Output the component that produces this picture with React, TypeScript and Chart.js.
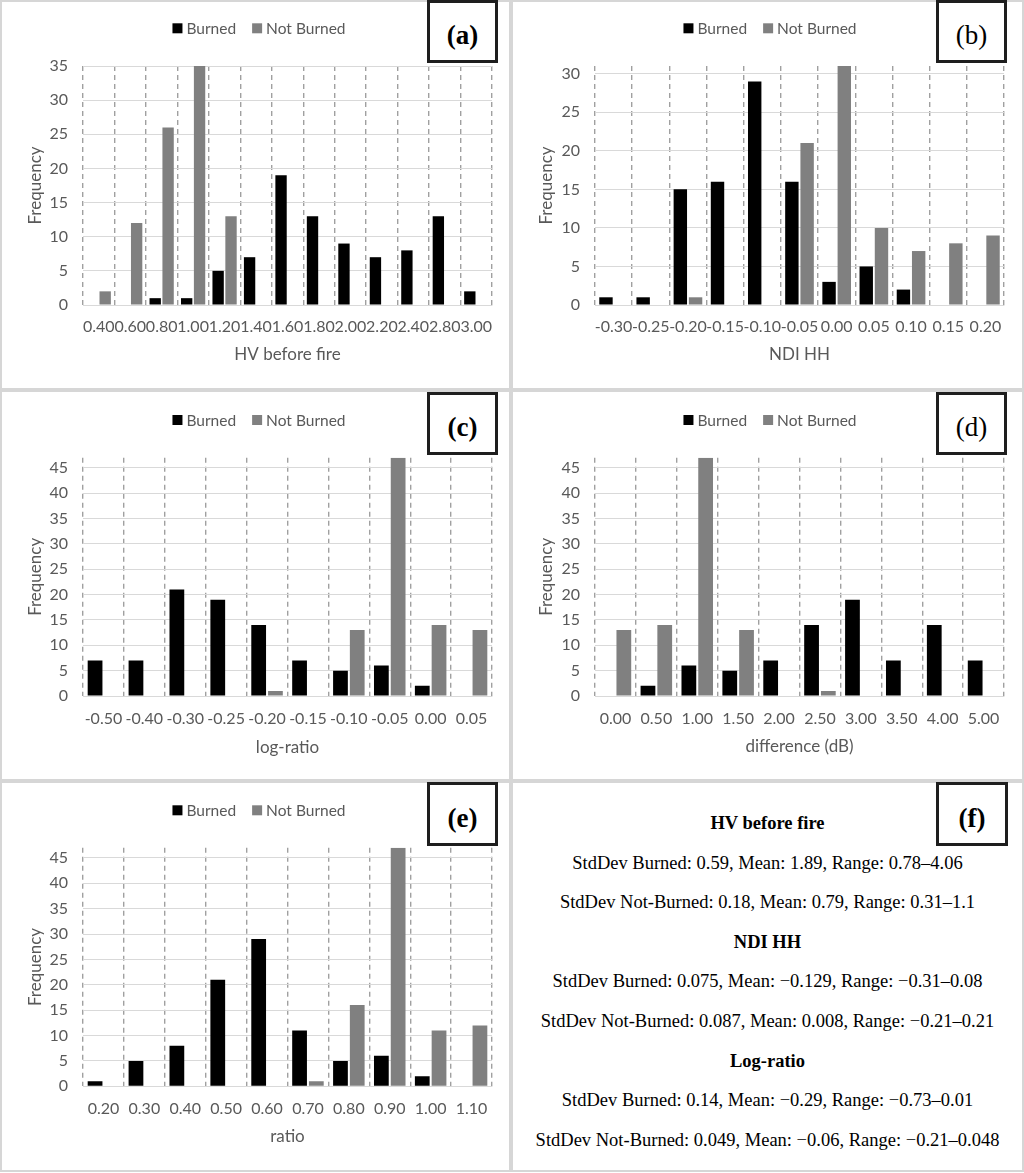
import React, { useEffect, useRef } from "react";
import { Chart, registerables } from "chart.js";

Chart.register(...registerables);

// ---------- DATA ----------
const seriesLabels = ["Burned", "Not Burned"];

const aCategories = ["0.40", "0.60", "0.80", "1.00", "1.20", "1.40", "1.60", "1.80", "2.00", "2.20", "2.40", "2.80", "3.00"];
const aBurned = [0, 0, 1, 1, 5, 7, 19, 13, 9, 7, 8, 13, 2];
const aNotBurned = [2, 12, 26, 35, 13, 0, 0, 0, 0, 0, 0, 0, 0];

const bCategories = ["-0.30", "-0.25", "-0.20", "-0.15", "-0.10", "-0.05", "0.00", "0.05", "0.10", "0.15", "0.20"];
const bBurned = [1, 1, 15, 16, 29, 16, 3, 5, 2, 0, 0];
const bNotBurned = [0, 0, 1, 0, 0, 21, 31, 10, 7, 8, 9];

const cCategories = ["-0.50", "-0.40", "-0.30", "-0.25", "-0.20", "-0.15", "-0.10", "-0.05", "0.00", "0.05"];
const cBurned = [7, 7, 21, 19, 14, 7, 5, 6, 2, 0];
const cNotBurned = [0, 0, 0, 0, 1, 0, 13, 47, 14, 13];

const dCategories = ["0.00", "0.50", "1.00", "1.50", "2.00", "2.50", "3.00", "3.50", "4.00", "5.00"];
const dBurned = [0, 2, 6, 5, 7, 14, 19, 7, 14, 7];
const dNotBurned = [13, 14, 47, 13, 0, 1, 0, 0, 0, 0];

const eCategories = ["0.20", "0.30", "0.40", "0.50", "0.60", "0.70", "0.80", "0.90", "1.00", "1.10"];
const eBurned = [1, 5, 8, 21, 29, 11, 5, 6, 2, 0];
const eNotBurned = [0, 0, 0, 0, 0, 1, 16, 47, 11, 12];

const yMaxA = 35;
const yMaxB = 31;
const yMaxC = 47;
const yMaxD = 47;
const yMaxE = 47;
const yStep = 5;

const statsLines: { text: string; bold: boolean }[] = [
  { text: "HV before fire", bold: true },
  { text: "StdDev Burned: 0.59, Mean: 1.89, Range: 0.78\u20134.06", bold: false },
  { text: "StdDev Not-Burned: 0.18, Mean: 0.79, Range: 0.31\u20131.1", bold: false },
  { text: "NDI HH", bold: true },
  { text: "StdDev Burned: 0.075, Mean: \u22120.129, Range: \u22120.31\u20130.08", bold: false },
  { text: "StdDev Not-Burned: 0.087, Mean: 0.008, Range: \u22120.21\u20130.21", bold: false },
  { text: "Log-ratio", bold: true },
  { text: "StdDev Burned: 0.14, Mean: \u22120.29, Range: \u22120.73\u20130.01", bold: false },
  { text: "StdDev Not-Burned: 0.049, Mean: \u22120.06, Range: \u22120.21\u20130.048", bold: false },
];

// ---------- STYLE ----------
const BURNED_COLOR = "#000000";
const NOT_BURNED_COLOR = "#808080";
const TEXT_GRAY = "#595959";
const SANS = "Lato, 'Open Sans', sans-serif";
const SERIF = "'Liberation Serif', 'DejaVu Serif', serif";
const TICK_SIZE = 16;
const TITLE_SIZE = 17;
const LEGEND_SIZE = 15.5;

const excelLegend = {
  id: "excelLegend",
  afterDraw(chart: any, _args: any, opts: any) {
    const { ctx } = chart;
    ctx.save();
    ctx.font = `${opts.size}px ${opts.family}`;
    const items = chart.data.datasets.map((ds: any) => ({ text: ds.label, color: ds.backgroundColor }));
    const box = opts.box;
    const gap = opts.gap;
    const itemGap = opts.itemGap;
    const widths = items.map((it: any) => box + gap + ctx.measureText(it.text).width);
    const total = widths.reduce((a: number, b: number) => a + b, 0) + itemGap * (items.length - 1);
    let x = opts.centerX - total / 2;
    const y = opts.centerY;
    items.forEach((it: any, i: number) => {
      ctx.fillStyle = it.color;
      ctx.fillRect(x, y - box / 2, box, box);
      ctx.fillStyle = opts.color;
      ctx.textBaseline = "middle";
      ctx.textAlign = "left";
      ctx.fillText(it.text, x + box + gap, y + 1);
      x += widths[i] + itemGap;
    });
    ctx.restore();
  },
};

type PanelProps = {
  left: number;
  top: number;
  width: number;
  height: number;
  categories: string[];
  burned: number[];
  notBurned: number[];
  yMax: number;
  xTitle: string;
  plot: { left: number; right: number; top: number; bottom: number };
  legendY: number;
  tickOffset: number;
  titleY: number;
  label: string;
  labelBold: boolean;
  labelBox: { left: number; top: number; width: number; height: number };
};

function ChartPanel(p: PanelProps) {
  const ref = useRef<HTMLCanvasElement | null>(null);
  useEffect(() => {
    if (!ref.current) return;
    const tickLH = TICK_SIZE * 1.2;
    const titleLH = TITLE_SIZE * 1.2;
    const chart = new Chart(ref.current, {
      type: "bar",
      data: {
        labels: p.categories,
        datasets: [
          { label: seriesLabels[0], data: p.burned, backgroundColor: BURNED_COLOR, categoryPercentage: 0.82, barPercentage: 0.88 },
          { label: seriesLabels[1], data: p.notBurned, backgroundColor: NOT_BURNED_COLOR, categoryPercentage: 0.82, barPercentage: 0.88 },
        ],
      },
      options: {
        responsive: false,
        animation: false,
        layout: { padding: { top: p.plot.top, right: p.width - p.plot.right, bottom: 0, left: 0 } },
        plugins: {
          legend: { display: false },
          tooltip: { enabled: false },
          excelLegend: {
            centerX: 259,
            centerY: p.legendY,
            box: 10,
            gap: 4,
            itemGap: 16,
            size: LEGEND_SIZE,
            family: SANS,
            color: TEXT_GRAY,
          },
        } as any,
        scales: {
          x: {
            grid: { offset: true, color: "#a0a0a0", lineWidth: 1.4, drawTicks: false },
            border: { display: true, color: "#d9d9d9", width: 1, dash: [5, 4] },
            ticks: {
              autoSkip: false,
              maxRotation: 0,
              minRotation: 0,
              color: TEXT_GRAY,
              font: { family: SANS, size: TICK_SIZE },
              padding: p.tickOffset - tickLH / 2,
            },
            title: {
              display: true,
              text: p.xTitle,
              color: TEXT_GRAY,
              font: { family: SANS, size: TITLE_SIZE },
              padding: { top: 0, bottom: p.height - p.titleY - titleLH / 2 },
            },
            afterFit: (scale: any) => {
              scale.height = p.height - p.plot.bottom;
            },
          },
          y: {
            min: 0,
            max: p.yMax,
            grid: { color: "#d9d9d9", lineWidth: 1, drawTicks: false },
            border: { display: false },
            ticks: {
              stepSize: yStep,
              includeBounds: false,
              color: TEXT_GRAY,
              font: { family: SANS, size: TICK_SIZE },
              padding: 15,
            },
            title: {
              display: true,
              text: "Frequency",
              color: TEXT_GRAY,
              font: { family: SANS, size: TITLE_SIZE },
              padding: { top: 36 - titleLH / 2, bottom: 0 },
            },
            afterFit: (scale: any) => {
              scale.width = p.plot.left;
            },
          },
        },
      },
      plugins: [excelLegend],
    } as any);
    return () => chart.destroy();
  }, []);

  return (
    <div style={{ position: "absolute", left: p.left, top: p.top, width: p.width, height: p.height, background: "#fff" }}>
      <canvas ref={ref} width={p.width} height={p.height} style={{ position: "absolute", left: 0, top: 0 }} />
      <div
        style={{
          position: "absolute",
          left: 0,
          top: 0,
          width: p.width,
          height: p.height,
          boxSizing: "border-box",
          border: "2px solid #d6d6d6",
          pointerEvents: "none",
        }}
      />
      <LabelBox {...p.labelBox} label={p.label} bold={p.labelBold} />
    </div>
  );
}

function LabelBox(props: { left: number; top: number; width: number; height: number; label: string; bold: boolean }) {
  return (
    <div
      style={{
        position: "absolute",
        left: props.left,
        top: props.top,
        width: props.width,
        height: props.height,
        boxSizing: "border-box",
        border: "3px solid #1e1e1e",
        background: "#fff",
        display: "flex",
        alignItems: "center",
        justifyContent: "center",
        paddingTop: 8,
        fontFamily: SERIF,
        fontWeight: props.bold ? 700 : 400,
        fontSize: 27,
        color: "#000",
        lineHeight: 1,
      }}
    >
      {props.label}
    </div>
  );
}

function StatsPanel(props: { left: number; top: number; width: number; height: number }) {
  return (
    <div
      style={{
        position: "absolute",
        left: props.left,
        top: props.top,
        width: props.width,
        height: props.height,
        boxSizing: "border-box",
        border: "2px solid #d6d6d6",
        background: "#fff",
      }}
    >
      <div style={{ position: "absolute", left: 0, top: 21, width: props.width - 4, textAlign: "center" }}>
        {statsLines.map((l, i) => (
          <div
            key={i}
            style={{
              height: 39.6,
              lineHeight: "39.6px",
              fontFamily: SERIF,
              fontSize: 18.5,
              fontWeight: l.bold ? 700 : 400,
              color: "#000",
              whiteSpace: "nowrap",
            }}
          >
            {l.text}
          </div>
        ))}
      </div>
      <LabelBox left={423} top={-1} width={72} height={64} label="(f)" bold={true} />
    </div>
  );
}

export default function App() {
  return (
    <div style={{ position: "absolute", left: 0, top: 0, width: 1024, height: 1173, background: "#fff" }}>
      <ChartPanel
        left={0} top={0} width={511} height={390}
        categories={aCategories} burned={aBurned} notBurned={aNotBurned} yMax={yMaxA}
        xTitle="HV before fire"
        plot={{ left: 83, right: 492, top: 66, bottom: 305 }}
        legendY={28.3} tickOffset={21.7} titleY={355}
        label="(a)" labelBold={true}
        labelBox={{ left: 427, top: 0, width: 71, height: 63 }}
      />
      <ChartPanel
        left={511} top={0} width={513} height={390}
        categories={bCategories} burned={bBurned} notBurned={bNotBurned} yMax={yMaxB}
        xTitle="NDI HH"
        plot={{ left: 84, right: 493, top: 66, bottom: 305 }}
        legendY={28.3} tickOffset={22.3} titleY={355}
        label="(b)" labelBold={false}
        labelBox={{ left: 425, top: 0, width: 71, height: 63 }}
      />
      <ChartPanel
        left={0} top={390} width={511} height={391}
        categories={cCategories} burned={cBurned} notBurned={cNotBurned} yMax={yMaxC}
        xTitle="log-ratio"
        plot={{ left: 83, right: 492, top: 67.7, bottom: 306 }}
        legendY={30} tickOffset={23} titleY={357.5}
        label="(c)" labelBold={true}
        labelBox={{ left: 427, top: 2, width: 71, height: 63 }}
      />
      <ChartPanel
        left={511} top={390} width={513} height={391}
        categories={dCategories} burned={dBurned} notBurned={dNotBurned} yMax={yMaxD}
        xTitle="difference (dB)"
        plot={{ left: 84, right: 493, top: 67.7, bottom: 306 }}
        legendY={30} tickOffset={23} titleY={356.7}
        label="(d)" labelBold={false}
        labelBox={{ left: 425, top: 2, width: 71, height: 63 }}
      />
      <ChartPanel
        left={0} top={781} width={511} height={391}
        categories={eCategories} burned={eBurned} notBurned={eNotBurned} yMax={yMaxE}
        xTitle="ratio"
        plot={{ left: 83, right: 492, top: 66.7, bottom: 305.3 }}
        legendY={29.3} tickOffset={22.4} titleY={356}
        label="(e)" labelBold={true}
        labelBox={{ left: 427, top: 1, width: 71, height: 64 }}
      />
      <StatsPanel left={511} top={781} width={513} height={391} />
    </div>
  );
}
